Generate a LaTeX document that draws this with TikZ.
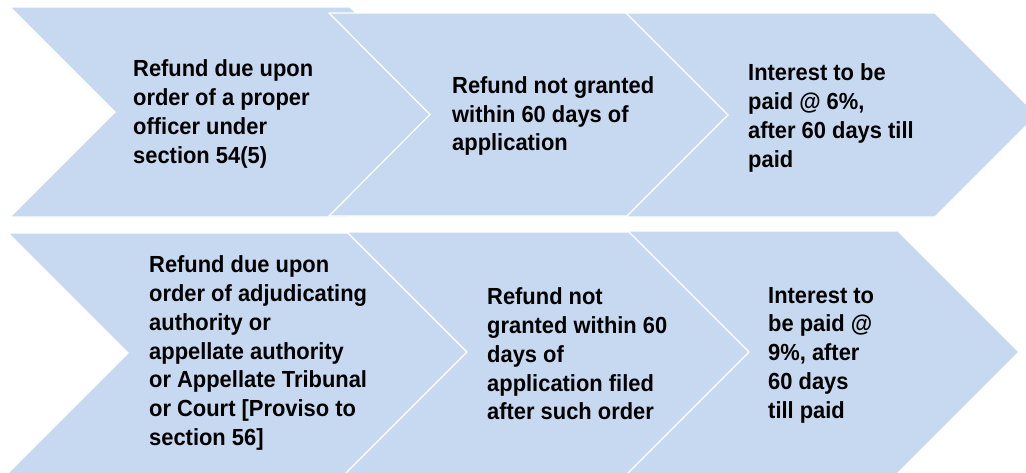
\documentclass[tikz,border=0pt]{standalone}
\usepackage{fontspec}
\setmainfont{Liberation Sans}[FakeStretch=0.94]
\definecolor{chevfill}{RGB}{198,217,240}
\begin{document}
\begin{tikzpicture}[x=1pt,y=-1pt,
  chev/.style={fill=chevfill, draw=white, line width=1.2pt, line join=miter},
  lbl/.style={anchor=west, align=left, inner sep=0pt, text=black,
    font=\bfseries\fontsize{23.3}{28.8}\selectfont}]
\useasboundingbox (0,0) rectangle (1026,472);
\clip (0,0) rectangle (1026,472);
% top row
\path[chev] (10,7) -- (350,7) -- (455,112) -- (350,217) -- (10,217) -- (115,112) -- cycle;
\path[chev] (329,13) -- (675,13) -- (776,114.5) -- (675,216) -- (329,216) -- (430,114.5) -- cycle;
\path[chev] (626,13) -- (935,13) -- (1037,115) -- (935,217) -- (626,217) -- (728,115) -- cycle;
% bottom row
\path[chev] (8,233) -- (348,233) -- (468,353) -- (343,478) -- (3,478) -- (128,353) -- cycle;
\path[chev] (347,232) -- (687,232) -- (807,352) -- (681,478) -- (341,478) -- (467,352) -- cycle;
\path[chev] (628,231) -- (898,231) -- (1019,352) -- (893,478) -- (623,478) -- (749,352) -- cycle;
% texts
\node[lbl] (t1) at (133,114) {Refund due upon\\order of a proper\\officer under\\section 54(5)};
\node[lbl] (t2) at (452,116) {Refund not granted\\within 60 days of\\application};
\node[lbl] (t3) at (748,118) {Interest to be\\paid @ 6\%,\\after 60 days till\\paid};
\node[lbl] (t4) at (149,353) {Refund due upon\\order of adjudicating\\authority or\\appellate authority\\or Appellate Tribunal\\or Court [Proviso to\\section 56]};
\node[lbl] (t5) at (487,354) {Refund not\\granted within 60\\days of\\application filed\\after such order};
\node[lbl] (t6) at (768,355) {Interest to\\be paid @\\9\%, after\\60 days\\till paid};
\end{tikzpicture}
\end{document}
